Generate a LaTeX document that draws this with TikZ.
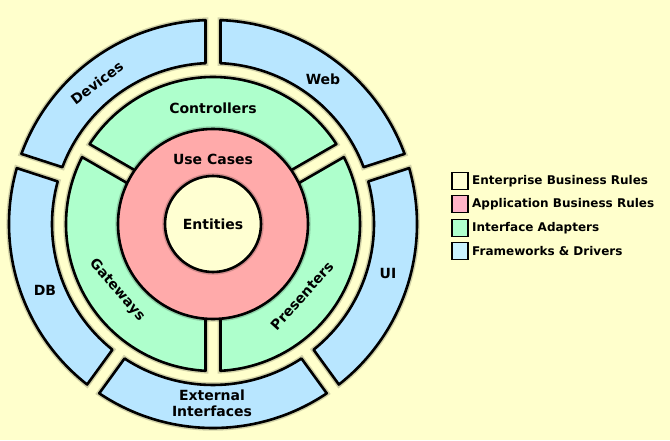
\documentclass[tikz,border=0pt]{standalone}
\usepackage{fontspec}
\setmainfont{DejaVu Sans}
\definecolor{bgc}{HTML}{FFFFCC}
\definecolor{entc}{HTML}{FFFFD2}
\definecolor{usec}{HTML}{FFAAAA}
\definecolor{adpc}{HTML}{AEFFCC}
\definecolor{frmc}{HTML}{B8E6FF}
\definecolor{legpink}{HTML}{FFB4C8}
\definecolor{legblue}{HTML}{C8F2FF}
\tikzset{
  seg/.style={draw=black, line width=2.6pt, line join=round,
    preaction={draw=black, draw opacity=0.18, line width=5.5pt}},
  lbl/.style={font=\bfseries\fontsize{14}{16}\selectfont, inner sep=0pt, align=center},
  leglbl/.style={font=\bfseries\fontsize{12}{14}\selectfont, anchor=west, inner sep=0pt},
  legbox/.style={draw=black, line width=1.2pt, minimum width=16pt, minimum height=17pt, inner sep=0pt},
}
\newcommand\ringseg[5]{%
  \pgfmathsetmacro\oa{asin(7.5/#5)}%
  \pgfmathsetmacro\ia{asin(7.5/#4)}%
  \draw[seg,#1] ({#2+\oa}:#5pt) arc[start angle={#2+\oa}, end angle={#3-\oa}, radius=#5pt]
     -- ({#3-\ia}:#4pt) arc[start angle={#3-\ia}, end angle={#2+\ia}, radius=#4pt] -- cycle;
}
\begin{document}
\begin{tikzpicture}[x=1pt,y=1pt]
\fill[bgc] (-213,-216) rectangle (457,224);
\useasboundingbox (-213,-216) rectangle (457,224);
% outer ring: frameworks & drivers
\ringseg{fill=frmc}{18}{90}{161}{204}
\ringseg{fill=frmc}{90}{162}{161}{204}
\ringseg{fill=frmc}{162}{234}{161}{204}
\ringseg{fill=frmc}{234}{306}{161}{204}
\ringseg{fill=frmc}{306}{378}{161}{204}
% interface adapters
\ringseg{fill=adpc}{30}{150}{90}{147}
\ringseg{fill=adpc}{150}{270}{90}{147}
\ringseg{fill=adpc}{270}{390}{90}{147}
% use cases and entities
\draw[seg, fill=usec] (0,0) circle[radius=95pt];
\draw[seg, fill=entc] (0,0) circle[radius=48pt];
% labels
\node[lbl] (entities) at (0,0) {Entities};
\node[lbl] (usecases) at (0,65) {Use Cases};
\node[lbl] (controllers) at (0,116) {Controllers};
\node[lbl, rotate=-49] (gateways) at (-96,-66) {Gateways};
\node[lbl, rotate=48] (presenters) at (89,-72) {Presenters};
\node[lbl, rotate=37] (devices) at (-116,141) {Devices};
\node[lbl] (web) at (110,145) {Web};
\node[lbl] (db) at (-168,-66) {DB};
\node[lbl] (ui) at (175,-49) {UI};
\node[lbl] (external) at (-1,-179) {External\\Interfaces};
% legend
\node[legbox, fill=entc] (lb1) at (247,43) {};
\node[legbox, fill=legpink] (lb2) at (247,20) {};
\node[legbox, fill=adpc] (lb3) at (247,-4) {};
\node[legbox, fill=legblue] (lb4) at (247,-27) {};
\node[leglbl] (lt1) at (259,43) {Enterprise Business Rules};
\node[leglbl] (lt2) at (259,20) {Application Business Rules};
\node[leglbl] (lt3) at (259,-4) {Interface Adapters};
\node[leglbl] (lt4) at (259,-27) {Frameworks \& Drivers};
\end{tikzpicture}
\end{document}
